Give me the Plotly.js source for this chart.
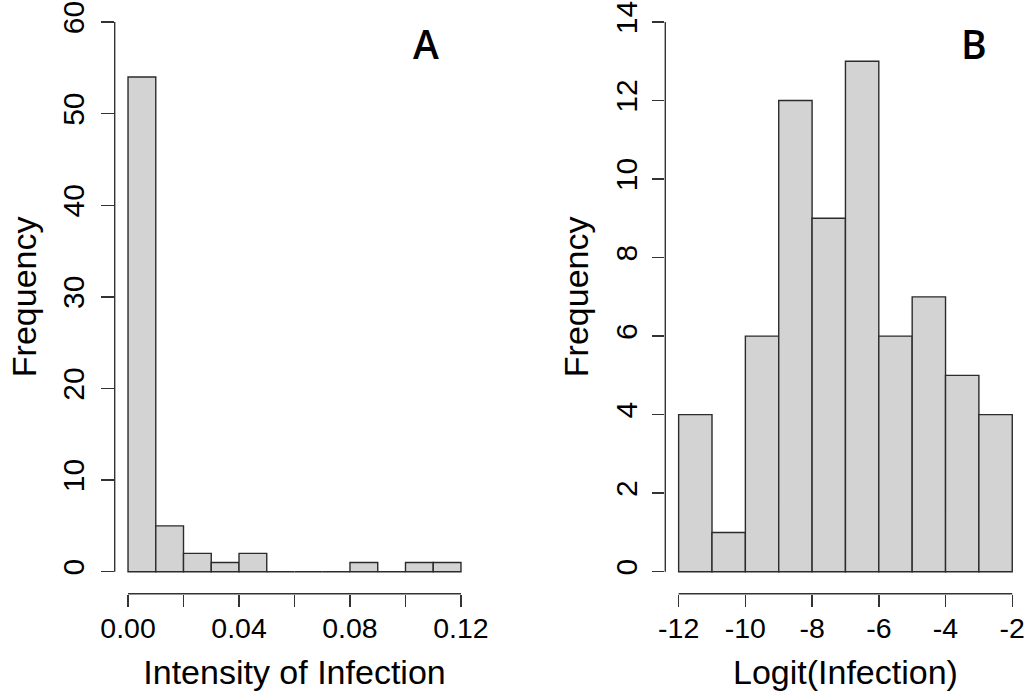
<!DOCTYPE html>
<html>
<head>
<meta charset="utf-8">
<script src="https://cdn.plot.ly/plotly-3.0.1.min.js"></script>
<style>html,body{margin:0;padding:0;background:#fff;}#chart{width:1029px;height:696px;}</style>
</head>
<body>
<div id="chart"></div>
<script>
// Panel A: Intensity of Infection histogram (bin edges, width 0.01)
const binStartA = [0.00, 0.01, 0.02, 0.03, 0.04, 0.05, 0.06, 0.07, 0.08, 0.09, 0.10, 0.11];
const binEndA   = [0.01, 0.02, 0.03, 0.04, 0.05, 0.06, 0.07, 0.08, 0.09, 0.10, 0.11, 0.12];
const countsA   = [54, 5, 2, 1, 2, 0, 0, 0, 1, 0, 1, 1];
const xTicksA   = [0.00, 0.02, 0.04, 0.06, 0.08, 0.10, 0.12];
const xTickTextA = ["0.00", "", "0.04", "", "0.08", "", "0.12"];
const yTicksA   = [0, 10, 20, 30, 40, 50, 60];

// Panel B: Logit(Infection) histogram (bin edges, width 1)
const binStartB = [-12, -11, -10, -9, -8, -7, -6, -5, -4, -3];
const binEndB   = [-11, -10, -9, -8, -7, -6, -5, -4, -3, -2];
const countsB   = [4, 1, 6, 12, 9, 13, 6, 7, 5, 4];
const xTicksB   = [-12, -10, -8, -6, -4, -2];
const yTicksB   = [0, 2, 4, 6, 8, 10, 12, 14];

const xTitleA = "Intensity of Infection";
const xTitleB = "Logit(Infection)";
const yTitle = "Frequency";
const panelLabels = ["A", "B"];

const FILL = "#d3d3d3";
const EDGE = "#2b2b2b";
const AXC = "#333333";
const FONT = "Liberation Sans, Arial, Helvetica, sans-serif";
const TICKSIZE = 28.5;
const TITLESIZE = 34;

function mids(s, e) { return s.map((v, i) => (v + e[i]) / 2); }
function widths(s, e) { return s.map((v, i) => e[i] - v); }
function extend(lo, hi) { const d = (hi - lo) * 0.04; return [lo - d, hi + d]; }

const traceA = {
  type: "bar", x: mids(binStartA, binEndA), y: countsA, width: widths(binStartA, binEndA),
  marker: {color: FILL, line: {color: EDGE, width: 1.4}}, xaxis: "x", yaxis: "y",
  hoverinfo: "x+y", showlegend: false
};
const traceB = {
  type: "bar", x: mids(binStartB, binEndB), y: countsB, width: widths(binStartB, binEndB),
  marker: {color: FILL, line: {color: EDGE, width: 1.4}}, xaxis: "x2", yaxis: "y2",
  hoverinfo: "x+y", showlegend: false
};

function axisCommon() {
  return {
    showgrid: false, zeroline: false, showline: false,
    ticks: "outside", ticklen: 12.5, tickwidth: 1.4, tickcolor: AXC,
    tickfont: {family: FONT, size: TICKSIZE, color: "#000"},
    fixedrange: true
  };
}

const xA = Object.assign(axisCommon(), {
  domain: [114.7 / 1029, 474.3 / 1029],
  range: extend(binStartA[0], xTicksA[xTicksA.length - 1]),
  tickmode: "array", tickvals: xTicksA, ticktext: xTickTextA,
  ticklabelstandoff: -3,
  title: {text: xTitleA, font: {family: FONT, size: TITLESIZE, color: "#000"}, standoff: 16},
  anchor: "y"
});
const yA = Object.assign(axisCommon(), {
  domain: [(696 - 593.7) / 696, 1],
  range: extend(yTicksA[0], yTicksA[yTicksA.length - 1]),
  tickmode: "array", tickvals: yTicksA, ticktext: yTicksA.map(String), tickangle: -90,
  tickfont: {family: FONT, size: 30, color: "#000"},
  ticklabelstandoff: 5,
  title: {text: yTitle, font: {family: FONT, size: TITLESIZE, color: "#000"}, standoff: 10},
  anchor: "x"
});
const xB = Object.assign(axisCommon(), {
  domain: [665.3 / 1029, 1025.6 / 1029],
  range: extend(xTicksB[0], xTicksB[xTicksB.length - 1]),
  tickmode: "array", tickvals: xTicksB, ticktext: xTicksB.map(String),
  ticklabelstandoff: -3,
  title: {text: xTitleB, font: {family: FONT, size: TITLESIZE, color: "#000"}, standoff: 16},
  anchor: "y2"
});
const yB = Object.assign(axisCommon(), {
  domain: [(696 - 593.7) / 696, 1],
  range: extend(yTicksB[0], yTicksB[yTicksB.length - 1]),
  tickmode: "array", tickvals: yTicksB, ticktext: yTicksB.map(String), tickangle: -90,
  tickfont: {family: FONT, size: 30, color: "#000"},
  ticklabelstandoff: 3,
  title: {text: yTitle, font: {family: FONT, size: TITLESIZE, color: "#000"}, standoff: 10},
  anchor: "x2"
});

// R-style axis lines spanning first to last tick only
const shapes = [
  {type: "line", xref: "x", yref: "y domain", x0: xTicksA[0], x1: xTicksA[xTicksA.length - 1], y0: 0, y1: 0, line: {color: AXC, width: 1.4}},
  {type: "line", xref: "x domain", yref: "y", x0: 0, x1: 0, y0: yTicksA[0], y1: yTicksA[yTicksA.length - 1], line: {color: AXC, width: 1.4}},
  {type: "line", xref: "x2", yref: "y2 domain", x0: xTicksB[0], x1: xTicksB[xTicksB.length - 1], y0: 0, y1: 0, line: {color: AXC, width: 1.4}},
  {type: "line", xref: "x2 domain", yref: "y2", x0: 0, x1: 0, y0: yTicksB[0], y1: yTicksB[yTicksB.length - 1], line: {color: AXC, width: 1.4}}
];

const annotations = [
  {text: panelLabels[0], xref: "paper", yref: "paper", x: 425.5 / 1029, y: (696 - 44) / 696, showarrow: false,
   xanchor: "center", yanchor: "middle", font: {family: "Open Sans, Lato, sans-serif", size: 39, color: "#000", weight: 600}},
  {text: panelLabels[1], xref: "paper", yref: "paper", x: 974 / 1029, y: (696 - 43) / 696, showarrow: false,
   xanchor: "center", yanchor: "middle", font: {family: "Open Sans, Lato, sans-serif", size: 39, color: "#000", weight: 600}}
];

const layout = {
  width: 1029, height: 696,
  margin: {l: 0, r: 0, t: 0, b: 0, pad: 0},
  paper_bgcolor: "#fff", plot_bgcolor: "rgba(0,0,0,0)",
  bargap: 0,
  xaxis: xA, yaxis: yA, xaxis2: xB, yaxis2: yB,
  shapes: shapes, annotations: annotations,
  showlegend: false
};

Plotly.newPlot("chart", [traceA, traceB], layout, {displayModeBar: false, staticPlot: true});
</script>
</body>
</html>
